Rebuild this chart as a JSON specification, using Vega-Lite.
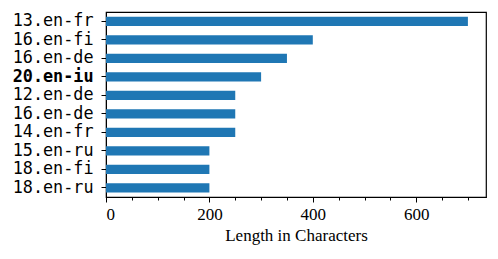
{
  "$schema": "https://vega.github.io/schema/vega-lite/v6.json",
  "width": 380,
  "height": 185,
  "autosize": {"type": "none"},
  "padding": {"left": 106, "top": 12, "right": 12, "bottom": 62},
  "background": "white",
  "config": {
    "view": {"stroke": "black", "strokeWidth": 1.2},
    "axis": {"grid": false, "domainColor": "black", "tickColor": "black", "labelColor": "black", "titleColor": "black"}
  },
  "data": {
    "values": [
      {"key": "13.en-fr|0", "length": 700},
      {"key": "16.en-fi|1", "length": 400},
      {"key": "16.en-de|2", "length": 350},
      {"key": "20.en-iu|3", "length": 300},
      {"key": "12.en-de|4", "length": 250},
      {"key": "16.en-de|5", "length": 250},
      {"key": "14.en-fr|6", "length": 250},
      {"key": "15.en-ru|7", "length": 200},
      {"key": "18.en-fi|8", "length": 200},
      {"key": "18.en-ru|9", "length": 200}
    ]
  },
  "layer": [
    {
      "mark": {"type": "bar", "color": "#1f77b4"},
      "encoding": {
        "y": {
          "field": "key", "type": "nominal", "sort": null,
          "scale": {"paddingInner": 0.5, "paddingOuter": 0.25},
          "axis": {
            "title": null,
            "labelExpr": "split(datum.value, '|')[0]",
            "labelFont": "DejaVu Sans Mono",
            "labelFontSize": 16.8,
            "labelFontWeight": {"condition": {"test": "indexof(datum.value, '20.en-iu') >= 0", "value": "bold"}, "value": "normal"},
            "tickSize": 5,
            "labelPadding": 8,
            "domain": true
          }
        },
        "x": {
          "field": "length", "type": "quantitative",
          "scale": {"domain": [0, 735], "nice": false},
          "axis": {
            "orient": "bottom",
            "title": "Length in Characters",
            "values": [0, 200, 400, 600],
            "labelFont": "Liberation Serif",
            "labelFontSize": 17,
            "titleFont": "Liberation Serif",
            "titleFontSize": 17,
            "titleFontWeight": "normal",
            "tickSize": 5,
            "labelPadding": 4,
            "titlePadding": 5
          }
        }
      }
    },
    {
      "mark": {"type": "bar", "opacity": 0},
      "encoding": {
        "x": {
          "field": "length", "type": "quantitative",
          "axis": {
            "orient": "bottom",
            "title": null,
            "values": [50, 100, 150, 250, 300, 350, 450, 500, 550, 650, 700],
            "labels": false,
            "domain": false,
            "tickSize": 3
          }
        }
      }
    }
  ],
  "resolve": {"axis": {"x": "independent"}}
}
